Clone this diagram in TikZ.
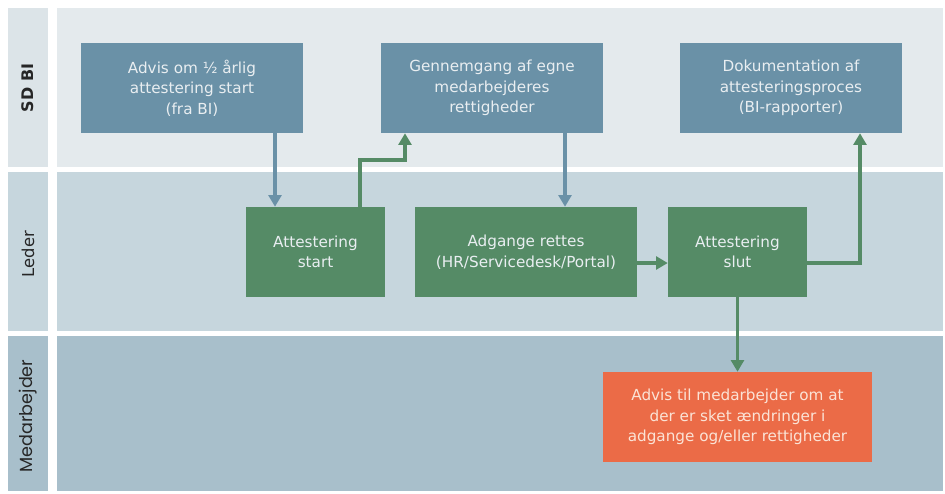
\documentclass[tikz,border=0pt]{standalone}
\usepackage{fontspec}
\setmainfont{DejaVu Sans}
\newfontfamily\medfont{Poppins}
\usetikzlibrary{arrows.meta}
\definecolor{laneA}{HTML}{E4EAED}
\definecolor{laneAlabel}{HTML}{DCE4E8}
\definecolor{laneB}{HTML}{C6D6DD}
\definecolor{laneC}{HTML}{A8BFCB}
\definecolor{sdblue}{HTML}{6A91A7}
\definecolor{ledergreen}{HTML}{558B66}
\definecolor{advisorange}{HTML}{EB6B47}
\definecolor{boxtext}{HTML}{E9EEF1}
\definecolor{advistext}{HTML}{FBE3D6}

\begin{document}
\begin{tikzpicture}[x=0.03cm, y=-0.03cm,
    box/.style = {rectangle, align=center, inner sep=0pt, text=boxtext,
        minimum height=2.7cm, font=\fontsize{13}{17.5}\selectfont},
    sd/.style = {box, fill=sdblue, minimum width=6.66cm},
    leder/.style = {box, fill=ledergreen, minimum width=4.17cm},
    advis/.style = {box, fill=advisorange, text=advistext, minimum width=8.07cm},
    lanelabel/.style = {rotate=90, text=black!85, font=\fontsize{14}{16}\selectfont},
    flow/.style = {line width=3.4pt, -{Triangle[length=10pt, width=11pt]}},
    blueflow/.style = {flow, draw=sdblue},
    greenflow/.style = {flow, draw=ledergreen}]

    % Lanes
    \useasboundingbox[fill=white] (0,0) rectangle (945,493);
    \fill[laneAlabel] (8,8) rectangle (48,167);
    \fill[laneA] (57,8) rectangle (943,167);
    \fill[laneB] (8,172) rectangle (48,331);
    \fill[laneB] (57,172) rectangle (943,331);
    \fill[laneC] (8,336) rectangle (48,491);
    \fill[laneC] (57,336) rectangle (943,491);

    \node[lanelabel, font=\fontsize{13.6}{16}\selectfont\bfseries] (sdbi) at (28,88) {SD BI};
    \node[lanelabel] (lederlane) at (28,254) {Leder};
    \node[lanelabel, font=\fontsize{15}{17}\medfont] (medlane) at (28,416) {Medarbejder};

    % Nodes
    \node[sd] (advisstart) at (192,88) {Advis om ½ årlig\\attestering start\\(fra BI)};
    \node[sd] (gennemgang) at (492,88) {Gennemgang af egne\\medarbejderes\\rettigheder};
    \node[sd] (dokumentation) at (791,88) {Dokumentation af\\attesteringsproces\\(BI-rapporter)};

    \node[leder] (attstart) at (315.5,252) {Attestering\\start};
    \node[leder, minimum width=6.66cm] (adgange) at (526,252) {Adgange rettes\\(HR/Servicedesk/Portal)};
    \node[leder] (attslut) at (737.5,252) {Attestering\\slut};

    \node[advis] (advismed) at (737.5,417) {Advis til medarbejder om at\\der er sket ændringer i\\adgange og/eller rettigheder};

    % Edges
    \draw[blueflow] ([xshift=-1.215cm]attstart.north |- advisstart.south) -- ([xshift=-1.215cm]attstart.north);
    \draw[greenflow] ([xshift=1.335cm]attstart.north) -- ++(0,1.41cm) -| ([xshift=-2.61cm]gennemgang.south);
    \draw[blueflow] ([xshift=2.19cm]gennemgang.south) -- ([xshift=2.19cm]gennemgang.south |- adgange.north);
    \draw[greenflow] ([yshift=-0.33cm]adgange.east) -- ([yshift=-0.33cm]adgange.east -| attslut.west);
    \draw[greenflow] ([yshift=-0.33cm]attslut.east) -| ([xshift=2.07cm]dokumentation.south);
    \draw[greenflow] (attslut.south) -- (advismed.north);

\end{tikzpicture}
\end{document}
